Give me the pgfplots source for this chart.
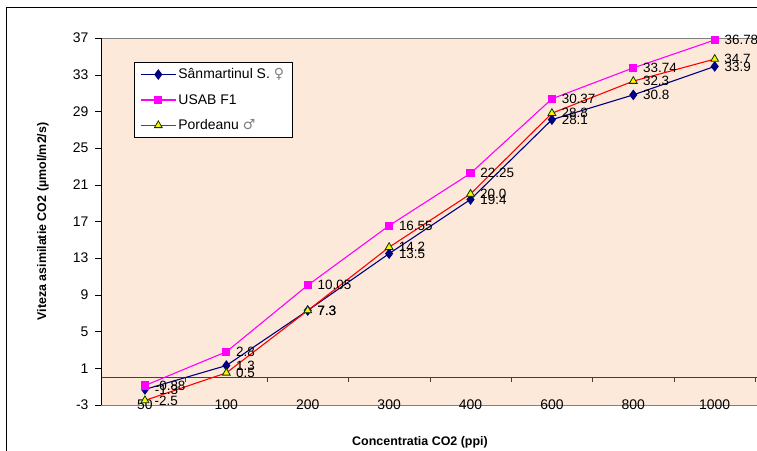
\documentclass[border=0pt]{standalone}
\usepackage{pgfplots}
\pgfplotsset{compat=1.18}
\usepackage{pgfplotstable}
\usepackage{fontspec}
\setmainfont{Liberation Sans}
\newfontfamily\sym{DejaVu Sans}
\definecolor{plotbg}{RGB}{252,233,218}
\definecolor{navyb}{RGB}{0,0,128}
\definecolor{magp}{RGB}{255,0,255}
\definecolor{redl}{RGB}{255,0,0}
\definecolor{triedge}{RGB}{0,60,0}
\protected\def\sanmname{Sânmartinul S. \textcolor{gray}{\sym ♀}}
\protected\def\pordname{Pordeanu \textcolor{gray}{\sym ♂}}
\protected\def\ylab{\textbf{Viteza asimilatie CO2 (µmol/m2/s)}}

\pgfplotstableread{
x y lab
0 -1.3 -1.3
1 1.3 1.3
2 7.3 7.3
3 13.5 13.5
4 19.4 19.4
5 28.1 28.1
6 30.8 30.8
7 33.9 33.9
}\sanm
\pgfplotstableread{
x y lab
0 -0.88 -0.88
1 2.8 2.8
2 10.05 10.05
3 16.55 16.55
4 22.25 22.25
5 30.37 30.37
6 33.74 33.74
7 36.78 36.78
}\usab
\pgfplotstableread{
x y lab
0 -2.5 -2.5
1 0.5 0.5
2 7.3 7.3
3 14.2 14.2
4 20.0 20.0
5 28.8 28.8
6 32.3 32.3
7 34.7 34.7
}\pord

\begin{document}
\begin{tikzpicture}[x=1bp,y=1bp]
\useasboundingbox (0,0) rectangle (757,451);
\fill[white] (0,0) rectangle (757,451);
\begin{axis}[
  at={(101bp,46bp)}, anchor=south west,
  scale only axis, width=656bp, height=367bp,
  clip=false,
  xmin=-0.54, xmax=7.52,
  ymin=-3, ymax=37,
  axis background/.style={fill=plotbg},
  axis line style={draw=gray},
  xtick={0,...,7},
  xticklabels={50,100,200,300,400,600,800,1000},
  xtick style={draw=none},
  xticklabel style={anchor=base, yshift=1.5bp, font=\fontsize{14}{14}\selectfont},
  ytick={-3,1,5,9,13,17,21,25,29,33,37},
  ytick pos=left,
  tick align=outside,
  major tick length=6bp,
  ytick style={draw=black},
  yticklabel style={xshift=-3bp, font=\fontsize{14}{14}\selectfont},
  /pgf/number format/assume math mode=true,
  xlabel={\textbf{Concentratia CO2 (ppi)}},
  xlabel style={at={(axis description cs:0.5,0)}, anchor=center, yshift=-37bp, xshift=-9bp, font=\fontsize{12.5}{13}\selectfont},
  ylabel={\ylab},
  ylabel style={at={(axis description cs:0,0.5)}, anchor=center, yshift=58bp, font=\fontsize{12.5}{13}\selectfont},
  legend style={at={(0.0503,0.9346)}, anchor=north west, draw=black, fill=white,
    font=\fontsize{14}{16}\selectfont, row sep=10bp, inner xsep=6bp, inner ysep=4.5bp},
  legend cell align=left,
  legend image code/.code={\draw[mark repeat=2,mark phase=2] plot coordinates {(0cm,0cm) (0.62cm,0cm) (1.24cm,0cm)};},
  nodes near coords,
  point meta=explicit symbolic,
  every node near coord/.style={anchor=west, xshift=6bp, yshift=0bp, font=\fontsize{13.5}{14}\selectfont, text=black},
]
\draw[black!75] (axis cs:-0.54,0) -- (axis cs:7.52,0);
\pgfplotsinvokeforeach{0.5,1.5,2.5,3.5,4.5,5.5,6.5,7.5}{\draw[black!75] (axis cs:#1,0) -- (axis cs:#1,-0.5);}
\draw[black] (axis cs:-0.54,-3) -- (axis cs:-0.54,37);

\addplot[navyb, line width=1.1bp, mark=diamond*, mark size=4.5bp, mark options={fill=navyb, draw=navyb}] table[x=x, y=y, meta=lab] {\sanm};
\addlegendentry{\sanmname}
\addplot[magp, line width=1.1bp, mark=square*, mark size=3.5bp, mark options={fill=magp, draw=magp}] table[x=x, y=y, meta=lab] {\usab};
\addlegendentry{USAB F1}
\addplot[redl, line width=1.1bp, mark=triangle*, mark size=4.5bp, mark options={fill=yellow, draw=triedge, line width=0.8bp}] table[x=x, y=y, meta=lab] {\pord};
\addlegendentry{\pordname}
\end{axis}
\draw[black, line width=1bp] (6,-2) -- (6,443) -- (760,443);
\end{tikzpicture}
\end{document}
